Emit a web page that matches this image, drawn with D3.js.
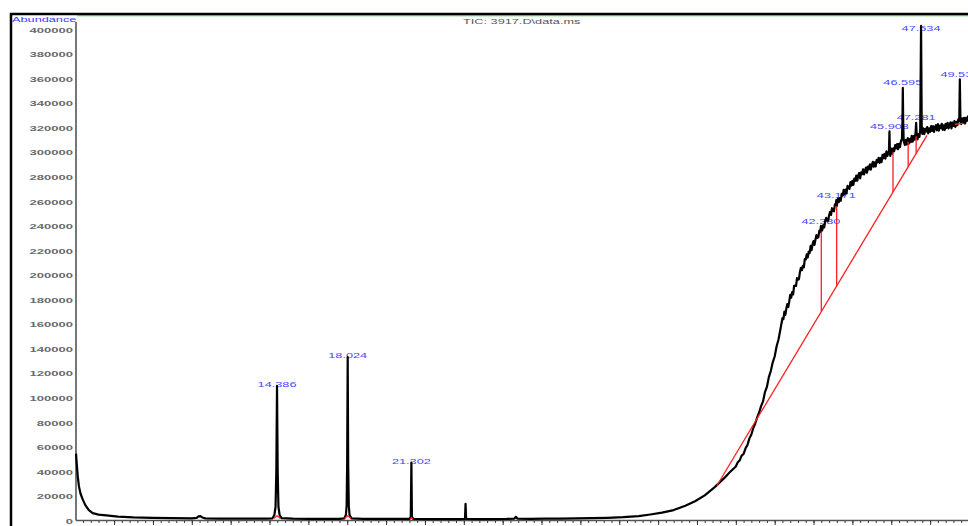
<!DOCTYPE html>
<html>
<head>
<meta charset="utf-8">
<script src="https://cdn.jsdelivr.net/npm/d3@7"></script>
<style>
    body { margin: 0; background: #fff; overflow: hidden; }
    svg { display: block; }
    text { font-family: Arial, "Liberation Sans", sans-serif; }
</style>
</head>
<body>
<div id="chart"></div>
<script>
// y tick labels (abundance)
const yTickValues = [0, 20000, 40000, 60000, 80000, 100000, 120000, 140000, 160000, 180000, 200000,
    220000, 240000, 260000, 280000, 300000, 320000, 340000, 360000, 380000, 400000];

// total ion chromatogram, [time (min), abundance]
const ticPoints = [
    [4.04, 54500], [4.06, 50000], [4.09, 44000], [4.13, 36000], [4.19, 28000], [4.27, 22000], [4.39, 17000],
    [4.52, 12500], [4.7, 8500], [4.9, 6000], [5.2, 4800], [5.6, 4100], [6.2, 3200], [7.0, 2500], [8.0, 2100],
    [9.0, 1900], [10.0, 1800], [10.25, 2100], [10.35, 3300], [10.45, 3600], [10.55, 2400], [10.7, 1700],
    [11.4, 1600], [12.2, 1500], [13.0, 1500], [13.8, 1500], [14.15, 1800], [14.25, 4500], [14.31, 11000],
    [14.35, 40000], [14.386, 109700], [14.42, 40000], [14.46, 11000], [14.52, 4500], [14.62, 1900],
    [15.2, 1500], [16.0, 1400], [16.8, 1400], [17.6, 1400], [17.85, 1800], [17.93, 4500], [17.97, 12000],
    [17.995, 45000], [18.024, 133200], [18.05, 45000], [18.08, 12000], [18.12, 4500], [18.22, 1800],
    [18.8, 1400], [19.6, 1300], [20.4, 1300], [21.2, 1300], [21.27, 3000], [21.302, 47200], [21.33, 3000],
    [21.4, 1300], [22.2, 1200], [23.0, 1200], [23.8, 1200], [24.06, 1400], [24.09, 13600], [24.12, 1400],
    [24.6, 1200], [25.4, 1200], [26.2, 1300], [26.6, 1500], [26.68, 3000], [26.76, 1500], [27.4, 1400],
    [28.2, 1500], [29.0, 1600], [29.8, 1700], [30.6, 1900], [31.4, 2200], [32.2, 2700], [33.0, 3600],
    [33.6, 4900], [34.2, 6400], [34.8, 8500], [35.4, 12000], [35.9, 15700], [36.4, 20500], [36.9, 27000],
    [37.4, 34500], [37.7, 39500], [38.0, 44000], [38.1, 47500], [38.2, 49000], [38.3, 52800], [38.4, 54200],
    [38.5, 58800], [38.6, 61600], [38.7, 66900], [38.8, 70100], [38.9, 75400], [39.0, 79000], [39.1, 84000],
    [39.2, 88000], [39.3, 93200], [39.4, 97000], [39.5, 104600], [39.6, 108800], [39.7, 116800],
    [39.8, 121800], [39.9, 128900], [40.0, 133600], [40.1, 142000], [40.2, 147600], [40.3, 156200],
    [40.40, 164800], [40.45, 164050], [40.50, 170100], [40.55, 167550], [40.60, 172600], [40.65, 176350],
    [40.70, 173900], [40.75, 178350], [40.80, 183900], [40.85, 181500], [40.90, 186000], [40.95, 184200],
    [41.00, 191200], [41.05, 191300], [41.10, 191100], [41.15, 197500], [41.20, 196200], [41.25, 196600],
    [41.30, 202500], [41.35, 205800], [41.40, 203900], [41.45, 207400], [41.50, 206300], [41.55, 212900],
    [41.60, 212700], [41.65, 216900], [41.70, 214250], [41.75, 219100], [41.80, 217900], [41.85, 223800],
    [41.90, 220250], [41.95, 225100], [42.00, 227600], [42.05, 224500], [42.10, 228950], [42.15, 232500],
    [42.20, 230200], [42.25, 230800], [42.30, 236250], [42.35, 235000], [42.38, 240000], [42.42, 236000],
    [42.45, 236600], [42.50, 240650], [42.55, 238800], [42.60, 243900], [42.65, 246500], [42.70, 244250],
    [42.75, 244000], [42.80, 248500], [42.85, 251500], [42.90, 248900], [42.95, 254400], [43.00, 252300],
    [43.05, 251900], [43.10, 257600], [43.15, 257400], [43.171, 261000], [43.20, 256300], [43.25, 262300],
    [43.30, 259350], [43.35, 262700], [43.40, 260500], [43.45, 266200], [43.50, 264750], [43.55, 269300],
    [43.60, 265600], [43.65, 269600], [43.70, 266700], [43.75, 272600], [43.80, 271350], [43.85, 270100],
    [43.90, 275700], [43.95, 272800], [44.00, 276700], [44.05, 273400], [44.10, 278600], [44.15, 276700],
    [44.20, 281050], [44.25, 276800], [44.30, 280900], [44.35, 283100], [44.40, 278700], [44.45, 283600],
    [44.50, 282150], [44.55, 286100], [44.60, 282000], [44.65, 285000], [44.70, 287550], [44.75, 283300],
    [44.80, 288400], [44.85, 286050], [44.90, 290100], [44.95, 285900], [45.00, 289550], [45.05, 292200],
    [45.10, 288200], [45.15, 291750], [45.20, 288500], [45.25, 293800], [45.30, 291850], [45.35, 295500],
    [45.40, 291400], [45.45, 295200], [45.50, 291950], [45.55, 297800], [45.60, 295100], [45.65, 298600],
    [45.70, 294850], [45.75, 300700], [45.80, 297000], [45.85, 299700], [45.88, 301000], [45.908, 317000],
    [45.93, 300500], [45.95, 297100], [46.00, 303000], [46.05, 298860], [46.10, 303100], [46.15, 300900],
    [46.20, 305850], [46.25, 303200], [46.30, 306700], [46.35, 302450], [46.40, 306900], [46.45, 304140],
    [46.50, 309200], [46.55, 310800], [46.575, 325000], [46.595, 352500], [46.615, 325000], [46.64, 309000],
    [46.70, 305900], [46.75, 310000], [46.80, 306400], [46.85, 311500], [46.90, 306850], [46.95, 310800],
    [47.00, 308200], [47.05, 313400], [47.10, 308550], [47.15, 313200], [47.20, 310200], [47.25, 315500],
    [47.281, 324000], [47.31, 314000], [47.35, 310400], [47.40, 314700], [47.45, 312500], [47.49, 318000],
    [47.534, 403000], [47.57, 319000], [47.60, 315000], [47.65, 319450], [47.70, 314800], [47.75, 319150],
    [47.80, 316900], [47.85, 320550], [47.90, 315400], [47.95, 319450], [48.00, 316600], [48.05, 321300],
    [48.10, 317500], [48.15, 321300], [48.20, 316550], [48.25, 320250], [48.30, 322050], [48.35, 317800],
    [48.40, 322900], [48.45, 317625], [48.50, 321750], [48.55, 319600], [48.60, 323200], [48.65, 318300],
    [48.70, 321850], [48.75, 318100], [48.80, 323200], [48.85, 319900], [48.90, 324000], [48.95, 319450],
    [49.00, 322450], [49.05, 324350], [49.10, 319500], [49.15, 324100], [49.20, 321500], [49.25, 325300],
    [49.30, 320700], [49.35, 324700], [49.40, 322000], [49.45, 326700], [49.50, 325300], [49.53, 359300],
    [49.56, 326000], [49.60, 323000], [49.65, 327650], [49.70, 324000], [49.75, 327950], [49.80, 323400],
    [49.85, 327950], [49.90, 325600], [49.95, 329250], [50.00, 325200]
];

// integration peak labels
const peakTimes = [14.386, 18.024, 21.302, 42.380, 43.171, 45.908, 46.595, 47.281, 47.534, 49.532];
const peakLabels = ['14.386', '18.024', '21.302', '42.380', '43.171', '45.908', '46.595', '47.281', '47.534', '49.532'];
const labelAbund = [108900, 132500, 46300, 241500, 262600, 318700, 354500, 326000, 398400, 361000];

// integration baselines (red)
const baselineSegments = [
    [[14.22, 1600], [14.386, 3800], [14.56, 1600]],
    [[17.86, 1600], [18.024, 3800], [18.2, 1600]],
    [[21.24, 1200], [21.302, 2500], [21.37, 1200]],
    [[37.03, 28500], [47.84, 313800]],
    [[49.28, 322800], [49.69, 323600]]
];
// drop lines: [time, top abundance, bottom abundance]
const dropLines = [
    [42.40, 235500, 170200],
    [43.19, 256000, 191100],
    [46.09, 300000, 267600],
    [46.87, 308500, 288200],
    [47.28, 313000, 299000]
];

const width = 968, height = 526;
const x = d3.scaleLinear().domain([4.04, 49.95]).range([76, 968]);
const y = d3.scaleLinear().domain([0, 400000]).range([520.5, 29.5]);
const stretch = 1.72;

const svg = d3.select('#chart').append('svg')
    .attr('width', width)
    .attr('height', height);

// frame
svg.append('line')
    .attr('x1', 77).attr('x2', width).attr('y1', 15.8).attr('y2', 15.8)
    .attr('stroke', '#6c6').attr('stroke-width', 1);
svg.append('path')
    .attr('d', `M11,${height} V14 H${width}`)
    .attr('fill', 'none')
    .attr('stroke', '#000')
    .attr('stroke-width', 2.5);

// title
svg.append('text')
    .attr('transform', `translate(463,23.5) scale(${stretch},1)`)
    .attr('font-size', 7.4)
    .attr('fill', '#555')
    .text('TIC: 3917.D\\data.ms');

svg.append('text')
    .attr('transform', `translate(12,22) scale(${stretch},1)`)
    .attr('font-size', 7.4)
    .attr('fill', '#3a3aff')
    .text('Abundance');

// y axis
let yAxis = svg.append('g')
    .attr('transform', 'translate(76,0)')
    .call(d3.axisLeft(y).tickValues(yTickValues).tickSize(0).tickFormat(d3.format('d')));
yAxis.select('.domain')
    .attr('d', `M0,22V${y(0)}`)
    .attr('stroke', '#555')
    .attr('stroke-width', 1.6);
yAxis.selectAll('text')
    .attr('x', 0)
    .attr('dy', '0.36em')
    .attr('transform', `translate(-3,0) scale(${stretch},1)`)
    .attr('font-size', 7.6)
    .attr('font-weight', 'bold')
    .attr('fill', '#6a6a6a');

// x axis: major and minor ticks, no labels
let xAxisMinor = svg.append('g')
    .attr('transform', `translate(0,${y(0)})`)
    .call(d3.axisBottom(x).tickValues(d3.range(4.4, 50, 0.4)).tickSize(2.5).tickFormat(''));
let xAxis = svg.append('g')
    .attr('transform', `translate(0,${y(0)})`)
    .call(d3.axisBottom(x).tickValues(d3.range(6, 50, 2)).tickSize(4.5).tickFormat(''));
xAxis.select('.domain').attr('d', `M76,0H${width}`).attr('stroke', '#555').attr('stroke-width', 1.5);
xAxisMinor.select('.domain').remove();
svg.selectAll('.tick line').attr('stroke', '#333');

// peak labels (under the trace)
svg.append('g')
    .selectAll('text')
    .data(peakTimes)
    .enter()
    .append('text')
    .attr('transform', (d, i) => `translate(${x(d)},${y(labelAbund[i])}) scale(${stretch},1)`)
    .attr('text-anchor', 'middle')
    .attr('font-size', 7.4)
    .attr('fill', '#4848ff')
    .text((d, i) => peakLabels[i]);

// trace
const line = d3.line().x(d => x(d[0])).y(d => y(d[1]));
svg.append('path')
    .datum(ticPoints)
    .attr('d', line)
    .attr('fill', 'none')
    .attr('stroke', '#000')
    .attr('stroke-width', 2.2)
    .attr('stroke-linejoin', 'round');

// integration marks
let integ = svg.append('g')
    .attr('stroke', '#ff2020')
    .attr('fill', 'none')
    .attr('stroke-width', 1.3);
integ.selectAll('path')
    .data(baselineSegments)
    .enter()
    .append('path')
    .attr('d', line);
integ.selectAll('line')
    .data(dropLines)
    .enter()
    .append('line')
    .attr('x1', d => x(d[0]))
    .attr('x2', d => x(d[0]))
    .attr('y1', d => y(d[1]))
    .attr('y2', d => y(d[2]));
</script>
</body>
</html>
